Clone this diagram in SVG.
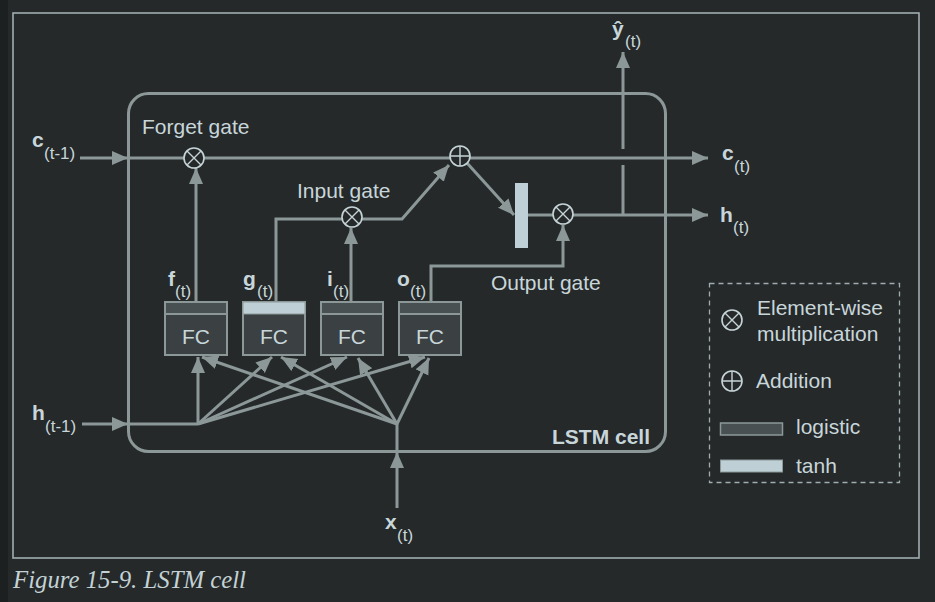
<svg xmlns="http://www.w3.org/2000/svg" width="935" height="602" viewBox="0 0 935 602">
<style>
.ln{fill:none;stroke:#8c9898;stroke-width:3}
.ar{marker-end:url(#ah)}
.op{fill:#25292a;stroke:#c6d4d7;stroke-width:1.6}
.opx{stroke:#c6d4d7;stroke-width:1.4}
.t{font-family:"Liberation Sans",Arial,sans-serif;fill:#c8d6da}
.b{font-weight:bold}
.fc{fill:#3b4142;stroke:#8c9898;stroke-width:2}
.hd{fill:#485051;stroke:#8c9898;stroke-width:2}
.th{fill:#bed0d5;stroke:#8c9898;stroke-width:1}
</style>
<defs>
<marker id="ah" markerUnits="userSpaceOnUse" markerWidth="17" markerHeight="15" refX="16" refY="7" orient="auto" viewBox="0 0 17 14">
<path d="M0,0 L16,7 L0,14 z" fill="#8c9898"/>
</marker>
</defs>
<rect x="0" y="0" width="935" height="602" fill="#25292a"/>
<rect x="0" y="0" width="8" height="602" fill="#1d2021"/>
<rect id="frame" x="13" y="13" width="906" height="545" fill="none" stroke="#9fadb0" stroke-width="1.6"/>

<g id="cell">
<rect x="128.5" y="93.5" width="537" height="358" rx="20" fill="none" stroke="#8c9898" stroke-width="3"/>
<text class="t b" x="650" y="444" font-size="21" text-anchor="end">LSTM cell</text>
</g>

<g id="connectors">
<line class="ln ar" x1="80" y1="158" x2="128" y2="158"/>
<line class="ln" x1="128" y1="158" x2="184" y2="158"/>
<line class="ln" x1="204" y1="158" x2="451" y2="158"/>
<line class="ln ar" x1="470" y1="158" x2="708" y2="158"/>
<line class="ln ar" x1="196" y1="302" x2="196" y2="168"/>
<polyline class="ln" points="276,302 276,219 342,219"/>
<line class="ln ar" x1="351" y1="302" x2="351" y2="228"/>
<polyline class="ln ar" points="362,219 402,219 449,165"/>
<line class="ln ar" x1="467" y1="163" x2="514" y2="215"/>
<line class="ln" x1="528" y1="215" x2="553" y2="215"/>
<line class="ln ar" x1="573" y1="215" x2="708" y2="215"/>
<line class="ln" x1="623" y1="215" x2="623" y2="165"/>
<line class="ln ar" x1="623" y1="149" x2="623" y2="52"/>
<polyline class="ln ar" points="431,302 431,266 563,266 563,225"/>
<line class="ln ar" x1="82" y1="424" x2="128" y2="424"/>
<line class="ln" x1="128" y1="424" x2="198" y2="424"/>
<line class="ln ar" x1="198" y1="424" x2="198" y2="357"/>
<line class="ln ar" x1="198" y1="424" x2="272" y2="357"/>
<line class="ln ar" x1="198" y1="424" x2="347" y2="357"/>
<line class="ln ar" x1="198" y1="424" x2="425" y2="357"/>
<line class="ln ar" x1="397" y1="508" x2="397" y2="452"/>
<line class="ln" x1="397" y1="452" x2="397" y2="424"/>
<line class="ln ar" x1="397" y1="424" x2="202" y2="357"/>
<line class="ln ar" x1="397" y1="424" x2="281" y2="357"/>
<line class="ln ar" x1="397" y1="424" x2="358" y2="358"/>
<line class="ln ar" x1="397" y1="424" x2="429" y2="358"/>
</g>

<g id="forget-mult">
<circle class="op" cx="194" cy="158" r="10"/>
<path class="opx" d="M187,151 L201,165 M201,151 L187,165"/>
<text class="t" x="142" y="134" font-size="21">Forget gate</text>
</g>
<g id="input-mult">
<circle class="op" cx="352" cy="217" r="10"/>
<path class="opx" d="M345,210 L359,224 M359,210 L345,224"/>
<text class="t" x="297" y="198" font-size="21">Input gate</text>
</g>
<g id="add">
<circle class="op" cx="460" cy="156" r="10"/>
<path class="opx" d="M450,156 L470,156 M460,146 L460,166"/>
</g>
<g id="tanh-bar">
<rect x="515" y="183" width="13" height="65" fill="#bed0d5"/>
</g>
<g id="output-mult">
<circle class="op" cx="563" cy="214" r="10"/>
<path class="opx" d="M556,207 L570,221 M570,207 L556,221"/>
<text class="t" x="491" y="290" font-size="21">Output gate</text>
</g>

<g id="fc-f">
<rect class="fc" x="165" y="302" width="62" height="53"/>
<rect class="hd" x="165" y="302" width="62" height="12"/>
<text class="t" x="196" y="344" font-size="21" text-anchor="middle">FC</text>
<text class="t b" x="168" y="286" font-size="21">f</text><text class="t" x="175" y="297" font-size="17">(t)</text>
</g>
<g id="fc-g">
<rect class="fc" x="243" y="302" width="62" height="53"/>
<rect class="th" x="243" y="302" width="62" height="12" stroke-width="2"/>
<text class="t" x="274" y="344" font-size="21" text-anchor="middle">FC</text>
<text class="t b" x="243" y="286" font-size="21">g</text><text class="t" x="257" y="297" font-size="17">(t)</text>
</g>
<g id="fc-i">
<rect class="fc" x="321" y="302" width="62" height="53"/>
<rect class="hd" x="321" y="302" width="62" height="12"/>
<text class="t" x="352" y="344" font-size="21" text-anchor="middle">FC</text>
<text class="t b" x="327" y="286" font-size="21">i</text><text class="t" x="333" y="297" font-size="17">(t)</text>
</g>
<g id="fc-o">
<rect class="fc" x="399" y="302" width="62" height="53"/>
<rect class="hd" x="399" y="302" width="62" height="12"/>
<text class="t" x="430" y="344" font-size="21" text-anchor="middle">FC</text>
<text class="t b" x="397" y="286" font-size="21">o</text><text class="t" x="410" y="297" font-size="17">(t)</text>
</g>

<g id="label-c-prev"><text class="t b" x="32" y="147" font-size="21">c</text><text class="t" x="44" y="159" font-size="17">(t-1)</text></g>
<g id="label-h-prev"><text class="t b" x="32" y="420" font-size="21">h</text><text class="t" x="45" y="432" font-size="17">(t-1)</text></g>
<g id="label-x"><text class="t b" x="385" y="529" font-size="21">x</text><text class="t" x="397" y="541" font-size="17">(t)</text></g>
<g id="label-c"><text class="t b" x="722" y="160" font-size="21">c</text><text class="t" x="734" y="172" font-size="17">(t)</text></g>
<g id="label-h"><text class="t b" x="720" y="222" font-size="21">h</text><text class="t" x="733" y="233" font-size="17">(t)</text></g>
<g id="label-y"><text class="t b" x="612" y="36" font-size="21">ŷ</text><text class="t" x="625" y="47" font-size="17">(t)</text></g>

<g id="legend">
<rect x="709.5" y="283.5" width="190" height="199" fill="none" stroke="#9fadb0" stroke-width="1.3" stroke-dasharray="5,4"/>
<circle class="op" cx="732" cy="320" r="10"/>
<path class="opx" d="M725,313 L739,327 M739,313 L725,327"/>
<text class="t" x="757" y="315" font-size="21">Element-wise</text>
<text class="t" x="757" y="341" font-size="21">multiplication</text>
<circle class="op" cx="732" cy="381" r="10"/>
<path class="opx" d="M722,381 L742,381 M732,371 L732,391"/>
<text class="t" x="756" y="388" font-size="21">Addition</text>
<rect x="720.5" y="423" width="62" height="12" fill="#485051" stroke="#8c9898" stroke-width="1.5"/>
<text class="t" x="796" y="434" font-size="21">logistic</text>
<rect x="720.5" y="460" width="62" height="12" fill="#bed0d5" stroke="#8c9898" stroke-width="1"/>
<text class="t" x="796" y="473" font-size="21">tanh</text>
</g>

<text id="caption" x="13" y="588" font-family="Liberation Serif,Times New Roman,serif" font-style="italic" font-size="24.5" textLength="233" lengthAdjust="spacingAndGlyphs" fill="#c3d2d5">Figure 15-9. LSTM cell</text>
</svg>
